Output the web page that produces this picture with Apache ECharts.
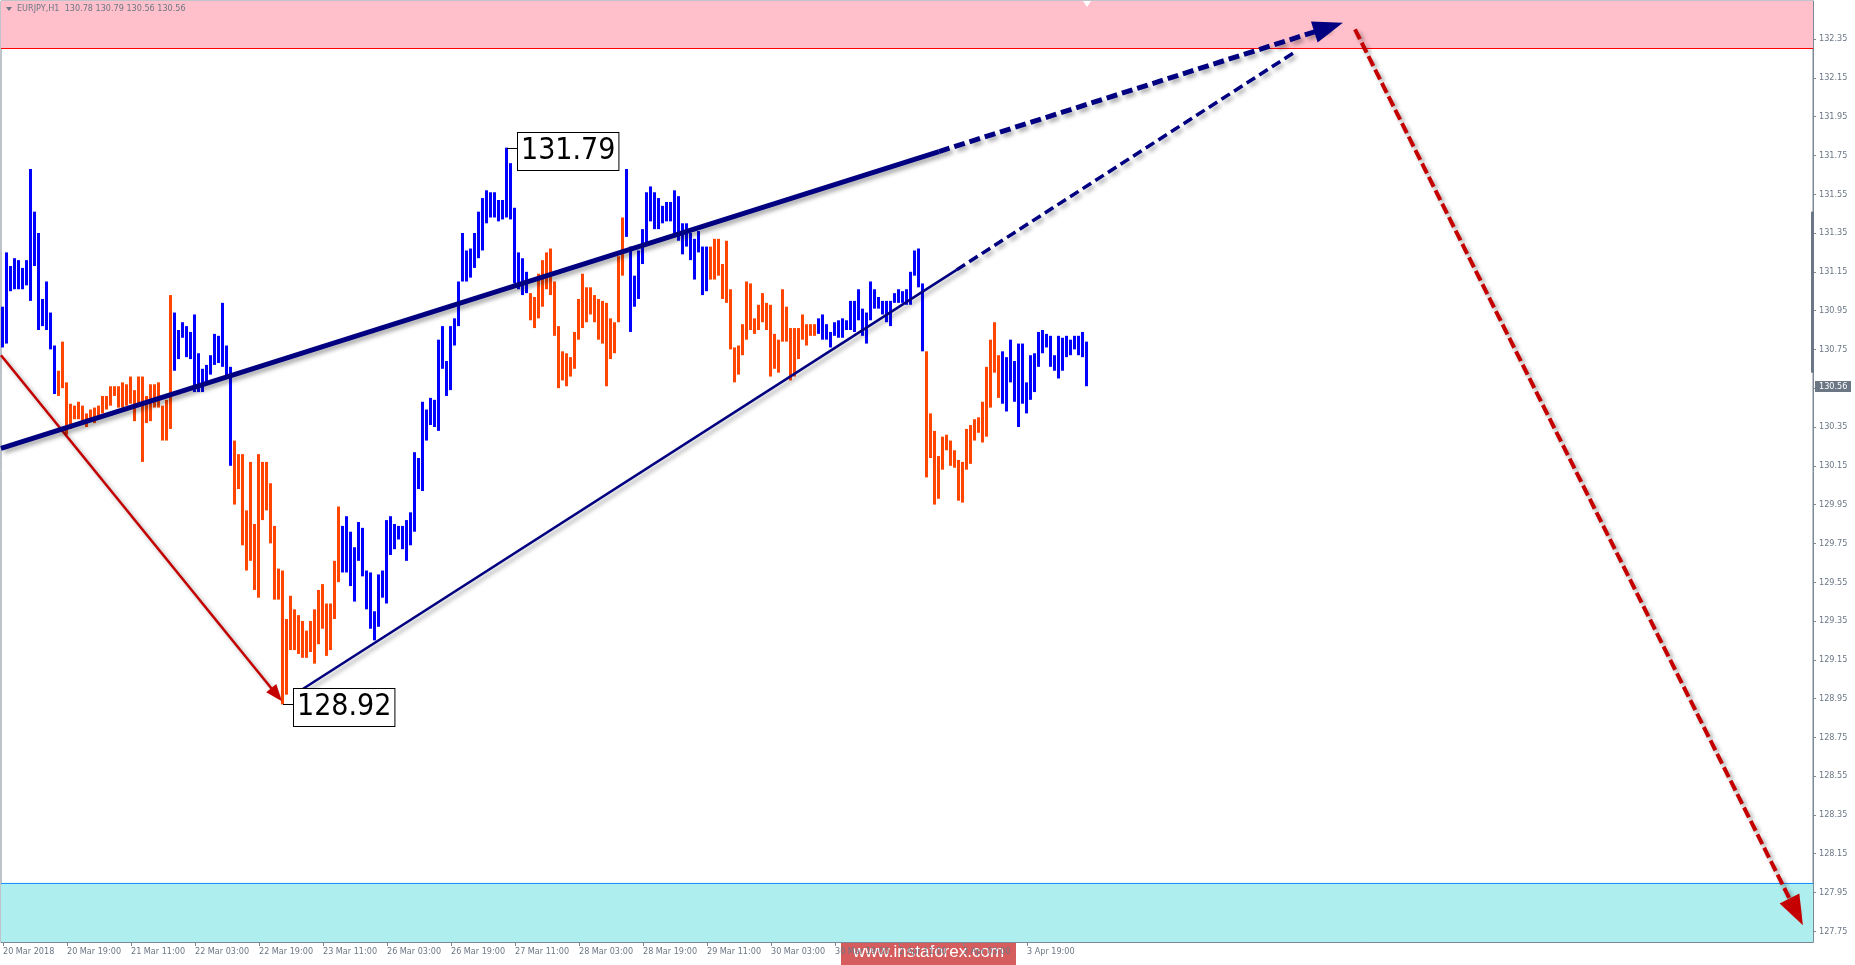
<!DOCTYPE html>
<html><head><meta charset="utf-8">
<script src="https://cdn.jsdelivr.net/npm/echarts@6/dist/echarts.min.js"></script>
<style>html,body{margin:0;padding:0;background:#fff;overflow:hidden}#c{width:1855px;height:965px}</style>
</head><body><div id="c"></div>
<script>
// ---------------- data ----------------
const symbolName = 'EURJPY,H1';
const lastOHLC = [130.78, 130.79, 130.56, 130.56];
const tickStep = 16;
const tickLabels = ['20 Mar 2018','20 Mar 19:00','21 Mar 11:00','22 Mar 03:00','22 Mar 19:00','23 Mar 11:00','26 Mar 03:00','26 Mar 19:00','27 Mar 11:00','28 Mar 03:00','28 Mar 19:00','29 Mar 11:00','30 Mar 03:00','30 Mar 19:00','2 Apr 11:00','3 Apr 03:00','3 Apr 19:00'];
const priceTicks = [127.75,127.95,128.15,128.35,128.55,128.75,128.95,129.15,129.35,129.55,129.75,129.95,130.15,130.35,130.55,130.75,130.95,131.15,131.35,131.55,131.75,131.95,132.15,132.35];
const highs = [
130.97,131.25,131.18,131.22,131.21,131.17,131.21,131.68,131.46,131.35,131.01,131.10,130.94,130.77,130.64,130.79,130.58,130.47,130.46,130.48,
130.46,130.42,130.44,130.45,130.46,130.51,130.51,130.56,130.56,130.56,130.58,130.57,130.61,130.54,130.61,130.61,130.51,130.57,130.57,130.58,
130.46,130.49,131.03,130.94,130.85,130.89,130.87,130.84,130.93,130.73,130.65,130.67,130.72,130.83,130.82,130.99,130.77,130.66,130.28,130.21,
130.21,129.92,130.17,129.85,130.21,130.17,130.17,130.06,129.84,129.62,129.61,129.36,129.48,129.41,129.38,129.35,129.30,129.35,129.41,129.51,
129.54,129.44,129.44,129.66,129.94,129.84,129.89,129.81,129.73,129.86,129.83,129.61,129.60,129.40,129.59,129.61,129.87,129.89,129.85,129.84,
129.84,129.87,129.91,130.22,130.19,130.48,130.44,130.50,130.49,130.80,130.87,130.69,130.87,130.91,131.10,131.35,131.26,131.27,131.35,131.46,
131.53,131.57,131.56,131.56,131.52,131.52,131.79,131.71,131.48,131.25,131.22,131.15,131.04,131.02,131.14,131.21,131.25,131.27,131.10,130.87,
130.74,130.73,130.71,130.84,131.01,131.14,131.07,131.07,131.03,131.01,131.00,130.99,130.91,130.89,131.23,131.43,131.68,131.28,131.13,131.26,
131.37,131.56,131.59,131.56,131.53,131.49,131.51,131.51,131.57,131.54,131.40,131.40,131.35,131.32,131.36,131.28,131.28,131.28,131.32,131.32,
131.19,131.31,131.06,130.76,130.77,130.88,131.10,131.09,130.91,130.98,131.04,130.99,130.98,130.83,130.80,131.06,130.97,130.86,130.86,130.86,
130.93,130.88,130.88,130.88,130.91,130.93,130.88,130.84,130.89,130.90,130.91,130.90,131.00,131.00,131.06,130.96,130.94,131.10,131.06,131.02,
131.00,131.00,131.00,131.04,131.06,131.05,131.06,131.15,131.26,131.27,131.09,130.74,130.42,130.33,130.20,130.30,130.31,130.28,130.23,130.18,
130.17,130.34,130.36,130.39,130.40,130.48,130.66,130.80,130.89,130.72,130.74,130.71,130.80,130.69,130.78,130.78,130.58,130.72,130.73,130.84,
130.85,130.83,130.82,130.72,130.82,130.81,130.82,130.80,130.82,130.82,130.84,130.79];
const lows = [
130.76,130.78,131.05,131.06,131.06,131.06,131.08,131.00,131.18,130.85,130.87,130.85,130.75,130.52,130.51,130.55,130.31,130.34,130.39,130.39,
130.38,130.35,130.38,130.37,130.39,130.42,130.44,130.46,130.51,130.45,130.45,130.46,130.47,130.38,130.46,130.17,130.37,130.38,130.45,130.45,
130.28,130.28,130.34,130.64,130.70,130.81,130.71,130.70,130.53,130.53,130.53,130.58,130.62,130.67,130.68,130.66,130.61,130.15,129.95,130.03,
129.74,129.61,129.66,129.51,129.47,129.87,129.92,129.75,129.46,129.46,128.92,128.97,129.20,129.20,129.18,129.16,129.16,129.19,129.13,129.23,
129.31,129.17,129.20,129.36,129.55,129.60,129.60,129.53,129.45,129.66,129.58,129.41,129.31,129.25,129.32,129.47,129.44,129.69,129.72,129.77,
129.72,129.66,129.74,129.81,130.03,130.02,130.28,130.36,130.35,130.33,130.65,130.51,130.54,130.77,130.87,131.10,131.10,131.12,131.17,131.22,
131.26,131.40,131.43,131.43,131.41,131.42,131.43,131.42,131.09,131.06,131.03,131.04,130.90,130.86,130.91,130.97,131.06,131.03,130.82,130.55,
130.59,130.56,130.61,130.65,130.80,130.86,130.89,130.93,130.89,130.80,130.78,130.56,130.70,130.73,130.89,131.13,131.33,130.84,130.97,131.01,
131.19,131.30,131.41,131.37,131.37,131.40,131.41,131.41,131.35,131.31,131.24,131.28,131.21,131.11,131.25,131.03,131.05,131.11,131.11,131.13,
131.01,130.99,130.75,130.58,130.62,130.72,130.80,130.85,130.83,130.85,130.89,130.85,130.61,130.65,130.63,130.79,130.79,130.59,130.61,130.70,
130.80,130.77,130.82,130.82,130.83,130.80,130.80,130.76,130.82,130.81,130.81,130.85,130.85,130.84,130.90,130.82,130.78,130.90,130.96,130.96,
130.93,130.89,130.87,130.99,130.99,130.99,130.98,130.98,131.13,131.07,130.74,130.09,130.19,129.95,129.98,130.13,130.23,130.15,130.14,129.97,
129.96,130.13,130.16,130.28,130.32,130.27,130.30,130.45,130.63,130.50,130.47,130.43,130.58,130.48,130.35,130.47,130.42,130.49,130.53,130.66,
130.73,130.76,130.66,130.64,130.60,130.64,130.71,130.72,130.75,130.72,130.71,130.56];
// 1 = blue (up) bar, 0 = orange-red (down) bar
const upBar = [
1,1,1,1,1,1,1,1,1,1,1,1,1,1,0,0,0,0,0,0, 0,0,0,0,0,0,0,0,0,0,0,0,0,0,0,0,0,0,0,0,
0,0,0,1,1,1,1,1,1,1,1,1,1,1,1,1,1,1,0,0, 0,0,0,0,0,0,0,0,0,0,0,0,0,0,0,0,0,0,0,0,
0,0,0,0,0,1,1,1,1,1,1,1,1,1,1,1,1,1,1,1, 1,1,1,1,1,1,1,1,1,1,1,1,1,1,1,1,1,1,1,1,
1,1,1,1,1,1,1,1,1,1,1,1,0,0,0,0,0,0,0,0, 0,0,0,0,0,0,0,0,0,0,0,0,0,0,0,0,1,1,1,1,
1,1,1,1,1,1,1,1,1,1,1,1,1,1,1,1,1,0,0,0, 0,0,0,0,0,0,0,0,0,0,0,0,0,0,0,0,0,0,0,0,
0,0,0,0,1,1,1,1,1,1,1,1,1,1,1,1,1,1,1,1, 1,1,1,1,1,1,1,1,1,1,1,0,0,0,0,0,0,0,0,0,
0,0,0,0,0,0,0,0,0,0,1,1,1,1,1,1,1,1,1,1, 1,1,1,1,1,1,1,1,1,1,1,1];
const resistanceLevel = 132.30;
const supportLevel = 128.00;
const pivotIdx = [126, 70];
const pivotPrice = [131.79, 128.92];
const scaleBar = [131.46, 130.63];
// analysis lines: [barIndex, price]
const redArrow = [[-0.5, 130.72], [68.4, 128.97]];
const mainLine = [[-0.5, 130.24], [234, 131.77]];
const mainLineProj = [[234, 131.77], [331.4, 132.41]];
const lowerLine = [[74.25, 128.99], [238.4, 131.16]];
const lowerLineProj = [[238.4, 131.16], [323.5, 132.29]];
const dropProj = [[338, 132.40], [448.3, 127.85]];

// ---------------- chart ----------------
const xMin = -0.5, xMax = 452.5, priceMin = 127.695, priceMax = 132.546;
const gray = '#6b7785';
const smallFont = '"DejaVu Sans Condensed","Liberation Sans",sans-serif';
const tickValues = tickLabels.map((_, i) => i * tickStep);
const shadow = {shadowColor:'rgba(0,0,0,0.35)', shadowBlur:4, shadowOffsetX:3, shadowOffsetY:3};
function seg(pts, style, arrow) {
  return [
    {coord: pts[0], symbol: 'none', lineStyle: style},
    {coord: pts[1], symbol: arrow ? 'triangle' : 'none', symbolSize: arrow || 0, lineStyle: style}
  ];
}
const navy = '#000080', dred = '#C40000';

const chart = echarts.init(document.getElementById('c'));
chart.setOption({
  animation: false,
  backgroundColor: '#ffffff',
  grid: {left: 1, right: 42, top: 1, bottom: 23, show: true, borderColor: '#7c8895', borderWidth: 1},
  xAxis: {
    type: 'value', min: xMin, max: xMax, splitLine: {show: false},
    axisLine: {show: true, onZero: false, lineStyle: {color: '#7c8895'}},
    axisTick: {show: true, length: 4, customValues: tickValues, lineStyle: {color: '#7c8895'}},
    axisLabel: {customValues: tickValues, formatter: v => tickLabels[Math.round(v / tickStep)],
      align: 'left', margin: 5, color: gray, fontSize: 9, fontFamily: smallFont}
  },
  yAxis: {
    type: 'value', position: 'right', min: priceMin, max: priceMax, splitLine: {show: false},
    axisLine: {show: true, onZero: false, lineStyle: {color: '#7c8895'}},
    axisTick: {show: true, length: 3, customValues: priceTicks, lineStyle: {color: '#7c8895'}},
    axisLabel: {customValues: priceTicks, formatter: v => v.toFixed(2), margin: 6, color: gray,
      fontSize: 9, fontFamily: smallFont, align: 'left'}
  },
  series: [
    { // zones
      type: 'line', data: [], silent: true, z: 1,
      markArea: {silent: true, data: [
        [{yAxis: resistanceLevel, itemStyle: {color: '#FFC0CB'}}, {yAxis: priceMax}],
        [{yAxis: priceMin, itemStyle: {color: '#AFEEEE'}}, {yAxis: supportLevel}]
      ]},
      markLine: {silent: true, symbol: 'none', label: {show: false}, animation: false, data: [
        {yAxis: resistanceLevel, lineStyle: {color: '#FF0000', width: 1, type: 'solid'}},
        {yAxis: supportLevel, lineStyle: {color: '#1E90FF', width: 1, type: 'solid'}}
      ]}
    },
    { // price bars
      type: 'custom', z: 3, silent: true,
      data: highs.map((h, i) => [i, h, lows[i], upBar[i]]),
      encode: {x: 0, y: [1, 2]},
      renderItem: (params, api) => {
        const top = api.coord([api.value(0), api.value(1)]);
        const bot = api.coord([api.value(0), api.value(2)]);
        return {type: 'rect', shape: {x: Math.floor(top[0] - 2), y: top[1], width: 3, height: Math.max(1, bot[1] - top[1])},
          style: {fill: api.value(3) ? '#0000FF' : '#FF4500'}};
      }
    },
    { // analysis lines
      type: 'line', data: [], silent: true, z: 5,
      markLine: {silent: true, symbol: 'none', animation: false, label: {show: false}, emphasis: {disabled: true},
        data: [
          seg(redArrow, Object.assign({color: dred, width: 2.5, type: 'solid'}, shadow), [13, 17]),
          seg(mainLine, Object.assign({color: navy, width: 5, type: 'solid'}, shadow)),
          seg(mainLineProj, Object.assign({color: navy, width: 5, type: [11, 5]}, shadow), [22, 30]),
          seg(lowerLine, Object.assign({color: navy, width: 2.5, type: 'solid'}, shadow)),
          seg(lowerLineProj, Object.assign({color: navy, width: 3.5, type: [10, 5]}, shadow)),
          seg(dropProj, Object.assign({color: dred, width: 4, type: [11, 4]}, shadow), [22, 30])
        ]}
    },
    { // pivot labels
      type: 'custom', z: 6, silent: true,
      data: pivotIdx.map((k, i) => [k, pivotPrice[i]]),
      renderItem: (params, api) => {
        const p = api.coord([api.value(0), api.value(1)]);
        const y = Math.round(p[1]) + 0.5;
        return {type: 'group', children: [
          {type: 'line', shape: {x1: p[0], y1: y, x2: p[0] + 11, y2: y}, style: {stroke: '#000', lineWidth: 1}},
          {type: 'text', x: Math.round(p[0]) + 11, y: y + 3, style: {text: api.value(1).toFixed(2), fill: '#000',
            font: '30px "DejaVu Sans Condensed","Liberation Sans",sans-serif', align: 'left', verticalAlign: 'middle',
            backgroundColor: '#fff', borderColor: '#000', borderWidth: 1, padding: [4, 3, 3, 3]}}
        ]};
      }
    },
    { // axis scale bar
      type: 'custom', z: 7, silent: true, clip: false,
      data: [[xMax, scaleBar[0], scaleBar[1]]],
      renderItem: (params, api) => {
        const a = api.coord([api.value(0), api.value(1)]);
        const b = api.coord([api.value(0), api.value(2)]);
        return {type: 'rect', shape: {x: a[0] - 2, y: a[1], width: 3, height: b[1] - a[1]}, style: {fill: gray}};
      }
    },
    { // last price tag
      type: 'custom', z: 8, silent: true, clip: false,
      data: [[xMax, lastOHLC[3]]],
      renderItem: (params, api) => {
        const p = api.coord([api.value(0), api.value(1)]);
        const y = Math.round(p[1]);
        return {type: 'group', children: [
          {type: 'rect', shape: {x: p[0] + 2, y: y - 5, width: 36, height: 11}, style: {fill: gray}},
          {type: 'text', x: p[0] + 6, y: y + 0.5, style: {text: api.value(1).toFixed(2), fill: '#fff',
            font: '9px ' + smallFont, align: 'left', verticalAlign: 'middle'}}
        ]};
      }
    },
    { // chart shift marker at last bar
      type: 'custom', z: 8, silent: true, clip: false,
      data: [[highs.length - 1, priceMax]],
      renderItem: (params, api) => {
        const p = api.coord([api.value(0), api.value(1)]);
        return {type: 'polygon', shape: {points: [[p[0] - 4, p[1]], [p[0] + 4, p[1]], [p[0], p[1] + 6]]}, style: {fill: '#fff'}};
      }
    }
  ],
  graphic: [
    {type: 'polygon', z: 100, shape: {points: [[6, 7], [12, 7], [9, 11]]}, style: {fill: gray}},
    {type: 'text', z: 100, left: 17, top: 4, style: {text: symbolName + '  ' + lastOHLC.map(v => v.toFixed(2)).join(' '),
      fill: gray, font: '9px ' + smallFont}},
    {type: 'group', z: 100, left: 841, top: 935, children: [
      {type: 'rect', shape: {x: 0, y: 0, width: 175, height: 30}, style: {fill: '#D65D5D'}},
      {type: 'text', x: 87.5, y: 17, style: {text: 'www.instaforex.com', fill: '#fff', font: '17px "Liberation Sans",sans-serif',
        align: 'center', verticalAlign: 'middle'}}
    ]}
  ]
});
</script>
</body></html>
